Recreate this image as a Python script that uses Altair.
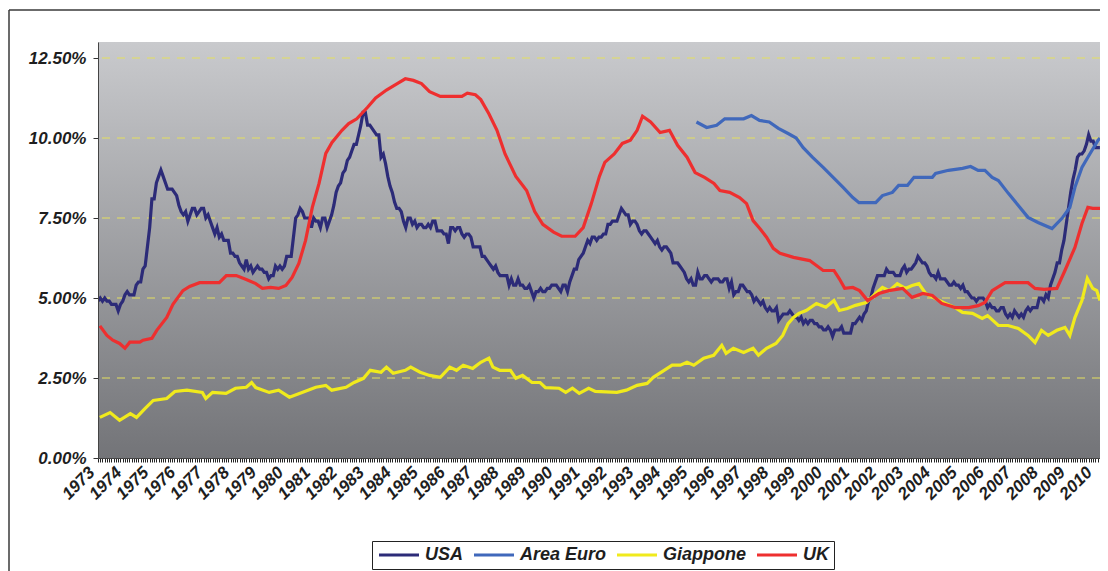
import altair as alt
import pandas as pd

# ---------------- data (unemployment rate, %) ----------------
series_names = ["USA", "Area Euro", "Giappone", "UK"]
series_colors = ["#2c2b78", "#4068bb", "#f0ea1c", "#ee2f2f"]

# USA: monthly values from Jan 1973
usa_start = 1973
usa_values = [
    4.9, 5.0, 4.9, 5.0, 4.9, 4.9, 4.8, 4.8, 4.8, 4.6, 4.8, 4.9,
    5.1, 5.2, 5.1, 5.1, 5.1, 5.4, 5.5, 5.5, 5.9, 6.0, 6.6, 7.2,
    8.1, 8.1, 8.6, 8.8, 9.0, 8.8, 8.6, 8.4, 8.4, 8.4, 8.3, 8.2,
    7.9, 7.7, 7.6, 7.7, 7.4, 7.6, 7.8, 7.8, 7.6, 7.7, 7.8, 7.8,
    7.5, 7.6, 7.4, 7.2, 7.0, 7.2, 6.9, 7.0, 6.8, 6.8, 6.8, 6.4,
    6.4, 6.3, 6.3, 6.1, 6.0, 5.9, 6.2, 5.9, 6.0, 5.8, 5.9, 6.0,
    5.9, 5.9, 5.8, 5.8, 5.6, 5.7, 5.7, 6.0, 5.9, 6.0, 5.9, 6.0,
    6.3, 6.3, 6.3, 6.9, 7.5, 7.6, 7.8, 7.7, 7.5, 7.5, 7.5, 7.2,
    7.5, 7.4, 7.4, 7.2, 7.5, 7.5, 7.2, 7.4, 7.6, 7.9, 8.3, 8.5,
    8.6, 8.9, 9.0, 9.3, 9.4, 9.6, 9.8, 9.8, 10.1, 10.4, 10.8, 10.8,
    10.4, 10.4, 10.3, 10.2, 10.1, 10.1, 9.4, 9.5, 9.2, 8.8, 8.5, 8.3,
    8.0, 7.8, 7.8, 7.7, 7.4, 7.2, 7.5, 7.5, 7.3, 7.4, 7.2, 7.3,
    7.3, 7.2, 7.2, 7.3, 7.2, 7.4, 7.4, 7.1, 7.1, 7.1, 7.0, 7.0,
    6.7, 7.2, 7.2, 7.1, 7.2, 7.2, 7.0, 6.9, 7.0, 7.0, 6.9, 6.6,
    6.6, 6.6, 6.6, 6.3, 6.3, 6.2, 6.1, 6.0, 5.9, 6.0, 5.8, 5.7,
    5.7, 5.7, 5.7, 5.4, 5.6, 5.4, 5.4, 5.6, 5.4, 5.4, 5.3, 5.3,
    5.4, 5.2, 5.0, 5.2, 5.2, 5.3, 5.2, 5.2, 5.3, 5.3, 5.4, 5.4,
    5.4, 5.3, 5.2, 5.4, 5.4, 5.2, 5.5, 5.7, 5.9, 5.9, 6.2, 6.3,
    6.4, 6.6, 6.8, 6.7, 6.9, 6.9, 6.8, 6.9, 6.9, 7.0, 7.0, 7.3,
    7.3, 7.4, 7.4, 7.4, 7.6, 7.8, 7.7, 7.6, 7.6, 7.3, 7.4, 7.4,
    7.3, 7.1, 7.0, 7.1, 7.1, 7.0, 6.9, 6.8, 6.7, 6.8, 6.6, 6.5,
    6.6, 6.6, 6.5, 6.4, 6.1, 6.1, 6.1, 6.0, 5.9, 5.8, 5.6, 5.5,
    5.6, 5.4, 5.4, 5.8, 5.6, 5.6, 5.7, 5.7, 5.6, 5.5, 5.6, 5.6,
    5.6, 5.5, 5.5, 5.6, 5.6, 5.3, 5.5, 5.1, 5.2, 5.2, 5.4, 5.4,
    5.3, 5.2, 5.2, 5.1, 4.9, 5.0, 4.9, 4.8, 4.9, 4.7, 4.6, 4.7,
    4.6, 4.6, 4.7, 4.3, 4.4, 4.5, 4.5, 4.5, 4.6, 4.5, 4.4, 4.4,
    4.3, 4.4, 4.2, 4.3, 4.2, 4.3, 4.3, 4.2, 4.2, 4.1, 4.1, 4.0,
    4.0, 4.1, 4.0, 3.8, 4.0, 4.0, 4.0, 4.1, 3.9, 3.9, 3.9, 3.9,
    4.2, 4.2, 4.3, 4.4, 4.3, 4.5, 4.6, 4.9, 5.0, 5.3, 5.5, 5.7,
    5.7, 5.7, 5.7, 5.9, 5.8, 5.8, 5.8, 5.7, 5.7, 5.7, 5.9, 6.0,
    5.8, 5.9, 5.9, 6.0, 6.1, 6.3, 6.2, 6.1, 6.1, 6.0, 5.8, 5.7,
    5.7, 5.6, 5.8, 5.6, 5.6, 5.6, 5.5, 5.4, 5.4, 5.5, 5.4, 5.4,
    5.3, 5.4, 5.2, 5.2, 5.1, 5.0, 5.0, 4.9, 5.0, 5.0, 5.0, 4.9,
    4.7, 4.8, 4.7, 4.7, 4.6, 4.6, 4.7, 4.7, 4.5, 4.4, 4.5, 4.4,
    4.6, 4.5, 4.4, 4.5, 4.4, 4.6, 4.7, 4.6, 4.7, 4.7, 4.7, 5.0,
    5.0, 4.9, 5.1, 5.0, 5.4, 5.6, 5.8, 6.1, 6.1, 6.5, 6.8, 7.3,
    7.8, 8.3, 8.7, 9.0, 9.4, 9.5, 9.5, 9.6, 9.8, 10.1, 9.9, 9.9,
    9.7, 9.7, 9.7,
]

# Area Euro: (decimal year, value)
euro_t = [1995.2, 1995.58, 1995.95, 1996.25, 1996.95, 1997.24, 1997.54, 1997.9,
          1998.24, 1998.6, 1998.9, 1999.16, 1999.5, 1999.9, 2000.27, 2000.64,
          2001.0, 2001.23, 2001.85, 2002.1, 2002.47, 2002.7, 2003.03, 2003.27,
          2003.95, 2004.07, 2004.55, 2005.07, 2005.37, 2005.65, 2005.9, 2006.17,
          2006.4, 2006.77, 2007.14, 2007.5, 2007.87, 2008.39, 2008.76, 2009.05,
          2009.24, 2009.5, 2009.72, 2010.1, 2010.17]
euro_v = [10.5, 10.33, 10.4, 10.6, 10.6, 10.7, 10.55, 10.5,
          10.3, 10.14, 10.0, 9.7, 9.4, 9.08, 8.77, 8.46,
          8.14, 7.98, 7.98, 8.2, 8.3, 8.52, 8.52, 8.77,
          8.77, 8.89, 8.99, 9.05, 9.11, 8.99, 8.99, 8.77,
          8.67, 8.27, 7.89, 7.52, 7.36, 7.17, 7.49, 7.83,
          8.46, 9.08, 9.4, 9.93, 10.0]

# Giappone: (decimal year, value)
jp_t = [1973.07, 1973.45, 1973.8, 1974.2, 1974.43, 1974.75, 1975.05, 1975.55,
        1975.85, 1976.3, 1976.87, 1977.0, 1977.25, 1977.75, 1978.1, 1978.5,
        1978.7, 1978.85, 1979.35, 1979.7, 1980.1, 1980.57, 1981.08, 1981.45,
        1981.67, 1982.2, 1982.5, 1982.85, 1983.1, 1983.5, 1983.7, 1983.95,
        1984.4, 1984.6, 1984.95, 1985.3, 1985.7, 1986.05, 1986.3, 1986.55,
        1986.9, 1987.2, 1987.5, 1987.65, 1987.9, 1988.3, 1988.5, 1988.75,
        1989.1, 1989.4, 1989.6, 1990.1, 1990.35, 1990.6, 1990.85, 1991.2,
        1991.45, 1992.25, 1992.6, 1993.0, 1993.37, 1993.6, 1994.0, 1994.3,
        1994.6, 1994.85, 1995.1, 1995.47, 1995.84, 1996.14, 1996.3, 1996.57,
        1996.95, 1997.3, 1997.5, 1997.8, 1998.15, 1998.4, 1998.6, 1998.8,
        1999.0, 1999.27, 1999.65, 2000.0, 2000.3, 2000.5, 2000.8, 2001.1,
        2001.5, 2001.85, 2002.1, 2002.35, 2002.65, 2002.95, 2003.2, 2003.45,
        2003.7, 2004.07, 2004.44, 2004.8, 2005.07, 2005.44, 2005.8, 2006.0,
        2006.4, 2006.76, 2007.14, 2007.5, 2007.76, 2008.0, 2008.25, 2008.57,
        2008.87, 2009.05, 2009.24, 2009.5, 2009.7, 2009.9, 2010.05, 2010.17]
jp_v = [1.27, 1.42, 1.18, 1.39, 1.27, 1.55, 1.8, 1.86,
        2.08, 2.12, 2.05, 1.86, 2.05, 2.02, 2.18, 2.21,
        2.36, 2.2, 2.05, 2.12, 1.9, 2.05, 2.21, 2.27,
        2.12, 2.21, 2.36, 2.49, 2.74, 2.68, 2.84, 2.65,
        2.74, 2.84, 2.68, 2.58, 2.52, 2.84, 2.74, 2.9,
        2.8, 2.99, 3.12, 2.84, 2.74, 2.74, 2.49, 2.58,
        2.36, 2.36, 2.2, 2.18, 2.05, 2.18, 2.02, 2.18,
        2.08, 2.05, 2.12, 2.27, 2.33, 2.52, 2.74, 2.9,
        2.9, 2.99, 2.9, 3.12, 3.21, 3.52, 3.27, 3.43,
        3.3, 3.43, 3.21, 3.43, 3.58, 3.83, 4.2, 4.39,
        4.52, 4.61, 4.83, 4.71, 4.92, 4.61, 4.67, 4.77,
        4.86, 5.14, 5.33, 5.23, 5.45, 5.3, 5.39, 5.45,
        5.14, 4.98, 4.83, 4.7, 4.55, 4.52, 4.36, 4.45,
        4.14, 4.14, 4.05, 3.83, 3.61, 3.99, 3.83, 3.99,
        4.08, 3.83, 4.39, 4.92, 5.61, 5.3, 5.23, 4.92]

# UK: (decimal year, value)
uk_t = [1973.07, 1973.33, 1973.55, 1973.8, 1974.0, 1974.18, 1974.55, 1974.67,
        1975.0, 1975.18, 1975.55, 1975.78, 1976.15, 1976.4, 1976.77, 1977.5,
        1977.76, 1978.13, 1978.5, 1978.85, 1979.1, 1979.4, 1979.7, 1979.97,
        1980.2, 1980.45, 1980.7, 1980.95, 1981.2, 1981.45, 1981.68, 1982.05,
        1982.3, 1982.6, 1983.0, 1983.3, 1983.7, 1984.1, 1984.4, 1984.7,
        1985.0, 1985.3, 1985.7, 1986.5, 1986.7, 1987.0, 1987.2, 1987.5,
        1987.8, 1988.1, 1988.5, 1988.9, 1989.2, 1989.5, 1989.9, 1990.2,
        1990.7, 1991.0, 1991.3, 1991.6, 1991.8, 1992.15, 1992.45, 1992.75,
        1993.0, 1993.2, 1993.5, 1993.85, 1994.2, 1994.5, 1994.85, 1995.15,
        1995.5, 1995.85, 1996.07, 1996.43, 1996.8, 1997.06, 1997.3, 1997.55,
        1997.8, 1998.05, 1998.3, 1998.8, 1999.4, 1999.9, 2000.3, 2000.5,
        2000.7, 2001.0, 2001.25, 2001.55, 2001.97, 2002.33, 2002.85, 2003.2,
        2003.6, 2003.95, 2004.3, 2004.8, 2005.3, 2005.65, 2005.9, 2006.17,
        2006.65, 2007.1, 2007.5, 2007.76, 2008.1, 2008.57, 2008.87, 2009.24,
        2009.5, 2009.72, 2009.9, 2010.17]
uk_v = [4.13, 3.83, 3.68, 3.58, 3.43, 3.62, 3.62, 3.68,
        3.74, 3.99, 4.39, 4.8, 5.23, 5.36, 5.48, 5.48,
        5.7, 5.7, 5.58, 5.45, 5.3, 5.33, 5.3, 5.39,
        5.64, 6.08, 6.8, 7.83, 8.58, 9.52, 9.86, 10.24,
        10.45, 10.6, 10.96, 11.25, 11.5, 11.7, 11.85, 11.8,
        11.7, 11.45, 11.3, 11.3, 11.4, 11.35, 11.2, 10.76,
        10.24, 9.5, 8.8, 8.36, 7.7, 7.3, 7.06, 6.93,
        6.93, 7.2, 7.95, 8.8, 9.24, 9.5, 9.83, 9.93,
        10.24, 10.68, 10.5, 10.17, 10.24, 9.77, 9.4, 8.92,
        8.77, 8.58, 8.36, 8.3, 8.14, 7.95, 7.42, 7.17,
        6.9, 6.55, 6.4, 6.27, 6.17, 5.86, 5.86, 5.6,
        5.3, 5.33, 5.23, 4.92, 5.14, 5.23, 5.3, 5.02,
        5.14, 5.08, 4.83, 4.7, 4.7, 4.76, 4.86, 5.23,
        5.48, 5.48, 5.48, 5.3, 5.27, 5.3, 5.86, 6.58,
        7.33, 7.83, 7.8, 7.8]

y_ticks = [0, 2.5, 5, 7.5, 10, 12.5]
x_start, x_end = 1973.0, 2010.17
y_max = 13

# ---------------- table ----------------
rows = []
for i, v in enumerate(usa_values):
    rows.append({"t": usa_start + i / 12, "v": v, "s": "USA"})
for t, v in zip(euro_t, euro_v):
    rows.append({"t": t, "v": v, "s": "Area Euro"})
for t, v in zip(jp_t, jp_v):
    rows.append({"t": t, "v": v, "s": "Giappone"})
for t, v in zip(uk_t, uk_v):
    rows.append({"t": t, "v": v, "s": "UK"})
df = pd.DataFrame(rows)

W, H = 1002, 416
FONT = "Liberation Sans"

month_ticks = [x_start + i / 12 for i in range(int(round((x_end - x_start) * 12)) + 1)]

y_scale = alt.Scale(domain=[0, y_max], nice=False, zero=True)
y_axis = alt.Axis(
    values=y_ticks,
    labelExpr="format(datum.value / 100, '.2%')",
    title=None, grid=False, zindex=1,
    tickSize=5, tickColor="#333333", domainColor="#444444",
    labelFont=FONT, labelFontSize=17, labelFontWeight="bold",
    labelFontStyle="italic", labelColor="#1e1e1e", labelPadding=7,
)
x_axis = alt.Axis(
    values=month_ticks,
    labelExpr="abs(datum.value - round(datum.value)) < 0.01 ? format(round(datum.value), 'd') : ''",
    title=None, grid=False, zindex=1,
    labelAngle=-45, labelAlign="right", labelBaseline="bottom",
    labelOverlap=False, labelFlush=False, labelBound=False,
    tickSize=4, tickColor="#222222", domainColor="#444444",
    labelFont=FONT, labelFontSize=17, labelFontWeight="bold",
    labelFontStyle="italic", labelColor="#1e1e1e", labelPadding=14,
)

one = pd.DataFrame({"k": [0]})

gradient = alt.LinearGradient(
    gradient="linear", x1=0, y1=0, x2=0, y2=1,
    stops=[alt.GradientStop(color="#c9cacd", offset=0),
           alt.GradientStop(color="#737478", offset=1)],
)
bg = alt.Chart(one).mark_rect(fill=gradient).encode(
    x=alt.value(0), x2=alt.value(W), y=alt.value(0), y2=alt.value(H)
)

grid = alt.Chart(pd.DataFrame({"g": y_ticks[1:]})).mark_rule(
    color="#e4df5e", strokeDash=[8, 7], strokeWidth=1
).encode(y=alt.Y("g:Q", scale=y_scale, axis=y_axis))

frame_top = alt.Chart(one).mark_rule(color="#3a3a3a", strokeWidth=1.5).encode(
    x=alt.value(-89), x2=alt.value(W + 20), y=alt.value(-32)
)
frame_left = alt.Chart(one).mark_rule(color="#3a3a3a", strokeWidth=1.5).encode(
    x=alt.value(-89), y=alt.value(-32), y2=alt.value(H + 200)
)

lines = alt.Chart(df).mark_line(strokeWidth=3.2, clip=True).encode(
    x=alt.X("t:Q", scale=alt.Scale(domain=[x_start, x_end], nice=False, zero=False), axis=x_axis),
    y=alt.Y("v:Q", scale=y_scale, axis=y_axis),
    color=alt.Color(
        "s:N",
        scale=alt.Scale(domain=series_names, range=series_colors),
        legend=alt.Legend(
            orient="none", legendX=274, legendY=499, direction="horizontal",
            title=None, symbolType="M-4,0H4", symbolSize=100, symbolStrokeWidth=3,
            symbolOffset=13, labelOffset=17, columnPadding=4, padding=5,
            labelFont=FONT, labelFontSize=18, labelFontWeight="bold",
            labelFontStyle="italic", labelColor="#1e1e1e",
            strokeColor="#222222", fillColor="white",
        ),
    ),
    detail="s:N",
)

chart = alt.layer(bg, grid, frame_top, frame_left, lines).properties(
    width=W, height=H,
    padding={"left": 90, "top": 34, "right": 0, "bottom": 113},
    autosize=alt.AutoSizeParams(type="none"),
    background="white",
).configure_view(stroke=None)

chart.save("out.html", embed_options={"renderer": "svg", "actions": False})
